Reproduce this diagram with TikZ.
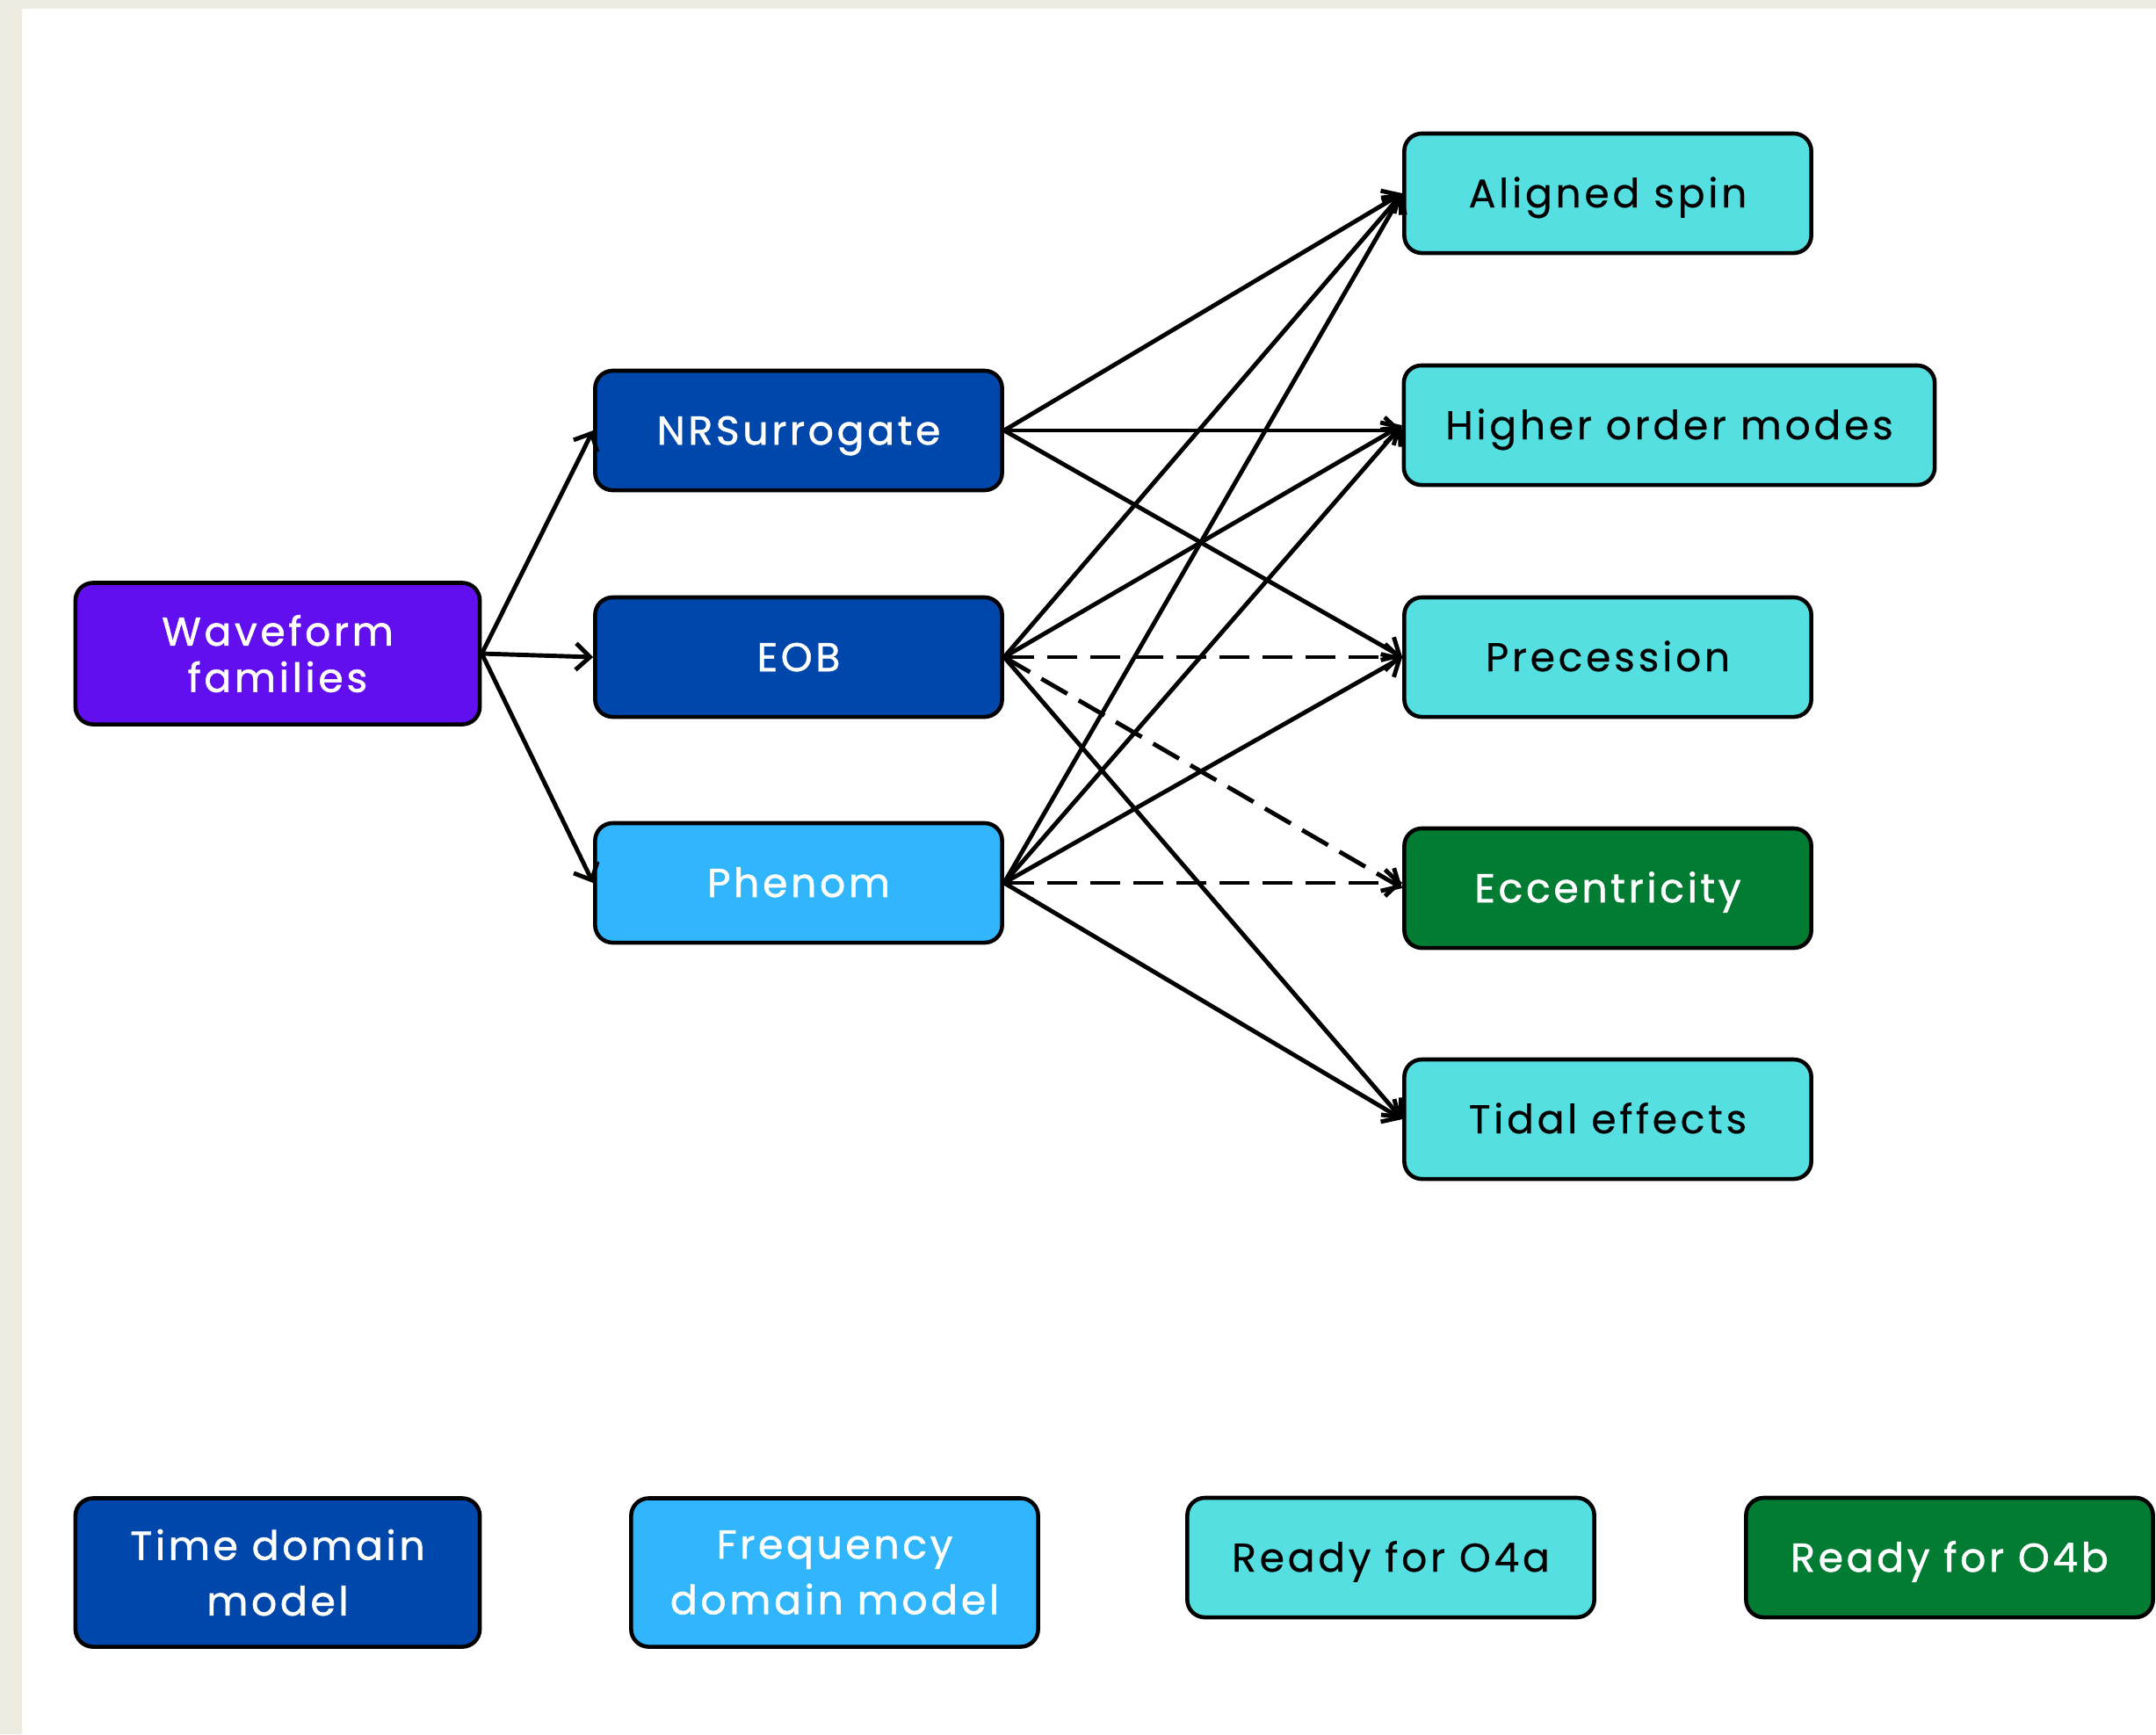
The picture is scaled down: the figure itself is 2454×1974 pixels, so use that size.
\documentclass[tikz,border=0pt]{standalone}
\usepackage{fontspec}
\setmainfont{Poppins}[LetterSpace=8, FakeBold=0.4]
\newfontfamily\lightonfont{Poppins}[LetterSpace=8, FakeBold=1.2]
\usepackage{xcolor}
\usetikzlibrary{arrows.meta,positioning}

\definecolor{bgbeige}{HTML}{EEEBE1}
\definecolor{wfpurple}{HTML}{610FEF}
\definecolor{tdblue}{HTML}{0047AB}
\definecolor{fdblue}{HTML}{31B5FC}
\definecolor{oacyan}{HTML}{56DFE1}
\definecolor{obgreen}{HTML}{037C33}

\begin{document}
\begin{tikzpicture}[x=0.01cm, y=-0.01cm,
    box/.style={draw=black, line width=1.3pt, rounded corners=0.2cm,
        minimum width=4.63cm, minimum height=1.36cm, inner sep=0pt,
        align=center, text height=9.1pt, text depth=0pt,
        font=\fontsize{13}{15}\selectfont},
    rootbox/.style={box, fill=wfpurple, text=white, text height={}, text depth={},
        minimum width=4.6cm, minimum height=1.61cm,
        font=\lightonfont\fontsize{13}{15}\selectfont},
    timebox/.style={box, fill=tdblue, text=white, font=\lightonfont\fontsize{13}{15}\selectfont},
    freqbox/.style={box, fill=fdblue, text=white, font=\lightonfont\fontsize{13}{15}\selectfont},
    readya/.style={box, fill=oacyan, text=black},
    readyb/.style={box, fill=obgreen, text=white, font=\lightonfont\fontsize{13}{15}\selectfont},
    keybox/.style={minimum height=1.69cm, text height={}, text depth={},
        font=\lightonfont\fontsize{13}{18}\selectfont},
    link/.style={-{Straight Barb[length=1.6mm,width=3mm]}, line width=1.4pt},
    dlink/.style={link, dash pattern=on 0.34cm off 0.15cm}]

    % Page and frame
    \useasboundingbox (0,0) rectangle (2454,1974);
    \fill[bgbeige] (0,0) rectangle (2454,1974);
    \fill[white] (25,10) rectangle (2454,1974);

    % Families
    \node[rootbox] (wf) at (316,744) {Waveform\\families};
    \node[timebox] (nrs) at (909,490) {NRSurrogate};
    \node[timebox] (eob) at (909,748) {EOB};
    \node[freqbox] (phen) at (909,1005) {Phenom};

    % Physical effects
    \node[readya] (as) at (1830,220) {Aligned spin};
    \node[readya, minimum width=6.04cm] (hom) at (1900,484) {Higher order modes};
    \node[readya] (prec) at (1830,748) {Precession};
    \node[readyb] (ecc) at (1830,1011) {Eccentricity};
    \node[readya] (tid) at (1830,1274) {Tidal effects};

    % Legend
    \node[timebox, keybox, minimum width=4.6cm] (keytd) at (316,1790) {Time domain\\model};
    \node[freqbox, keybox] (keyfd) at (950,1790) {Frequency\\domain model};
    \node[readya] (keyoa) at (1583,1773) {Ready for O4a};
    \node[readyb] (keyob) at (2219,1773) {Ready for O4b};

    % Family links
    \foreach \m in {nrs,eob,phen} {
        \draw[link] (wf.east) -- (\m.west);
    }

    % Effect links
    \foreach \t in {as,prec} {
        \draw[link] (nrs.east) -- (\t.west);
    }
    \draw[link] (nrs.east) -- (nrs.east -| hom.west);
    \foreach \t in {as,hom,tid} {
        \draw[link] (eob.east) -- (\t.west);
    }
    \foreach \t in {prec,ecc} {
        \draw[dlink] (eob.east) -- (\t.west);
    }
    \foreach \t in {as,hom,prec,tid} {
        \draw[link] (phen.east) -- (\t.west);
    }
    \draw[dlink] (phen.east) -- (phen.east -| ecc.west);
\end{tikzpicture}
\end{document}
